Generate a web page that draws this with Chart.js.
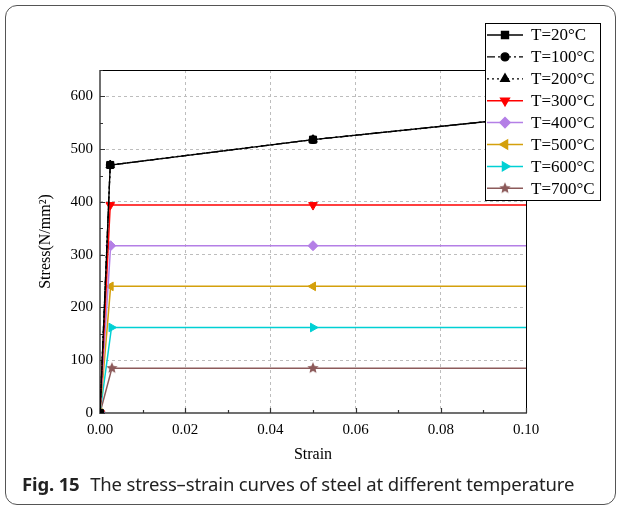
<!DOCTYPE html>
<html>
<head>
<meta charset="utf-8">
<script src="https://cdn.jsdelivr.net/npm/chart.js@4/dist/chart.umd.min.js"></script>
<style>
  html, body { margin: 0; padding: 0; background: #fff; }
  #wrap { position: relative; width: 624px; height: 510px; overflow: hidden; }
  #card { position: absolute; left: 5px; top: 5px; width: 611px; height: 500px; box-sizing: border-box;
          border: 1.5px solid #555; border-radius: 12px; }
  #chart { position: absolute; left: 0; top: 0; }
  #caption { position: absolute; left: 22px; top: 471px; font-family: "Noto Sans", sans-serif; font-size: 18.5px;
             color: #222; white-space: nowrap; letter-spacing: -0.15px; }
  #caption b { font-weight: 700; margin-right: 6px; }
</style>
</head>
<body>
<div id="wrap">
  <div id="card"></div>
  <canvas id="chart" width="624" height="510"></canvas>
  <div id="caption"><b>Fig. 15</b> The stress–strain curves of steel at different temperature</div>
</div>
<script>
// 图例标签
const labels = ["T=20°C", "T=100°C", "T=200°C", "T=300°C", "T=400°C", "T=500°C", "T=600°C", "T=700°C"];

// 应变 / 应力
const strain20 = [0, 0.0024, 0.05, 0.1];
const stress20 = [0, 470, 518, 560];
const strain100 = [0, 0.0024, 0.05, 0.1];
const stress100 = [0, 470, 518, 560];
const strain200 = [0, 0.0024, 0.05, 0.1];
const stress200 = [0, 470, 518, 560];
const strain300 = [0, 0.0024, 0.05, 0.1];
const stress300 = [0, 394, 394, 394];
const strain400 = [0, 0.0025, 0.05, 0.1];
const stress400 = [0, 317, 317, 317];
const strain500 = [0, 0.0025, 0.05, 0.1];
const stress500 = [0, 240, 240, 240];
const strain600 = [0, 0.0027, 0.05, 0.1];
const stress600 = [0, 162, 162, 162];
const strain700 = [0, 0.0028, 0.05, 0.1];
const stress700 = [0, 85, 85, 85];

const yTicks = [0, 100, 200, 300, 400, 500, 600];
const xTicks = [0, 0.02, 0.04, 0.06, 0.08, 0.10];

const strains = [strain20, strain100, strain200, strain300, strain400, strain500, strain600, strain700];
const stresses = [stress20, stress100, stress200, stress300, stress400, stress500, stress600, stress700];

// 五角星标记
function makeStar(color, r) {
    const c = document.createElement("canvas");
    c.width = c.height = r * 2 + 2;
    const g = c.getContext("2d");
    g.fillStyle = color;
    g.beginPath();
    for (let i = 0; i < 10; i++) {
        const rad = i % 2 === 0 ? r : r * 0.45;
        const a = -Math.PI / 2 + i * Math.PI / 5;
        const px = r + 1 + rad * Math.cos(a), py = r + 1 + rad * Math.sin(a);
        i === 0 ? g.moveTo(px, py) : g.lineTo(px, py);
    }
    g.closePath();
    g.fill();
    return c;
}

const styles = [
    { color: "#000000", dash: [], point: "rect", rot: 0, r: 5 },
    { color: "#000000", dash: [8, 3, 2, 3], point: "circle", rot: 0, r: 4 },
    { color: "#000000", dash: [2, 3], point: "triangle", rot: 0, r: 5 },
    { color: "#ff0000", dash: [], point: "triangle", rot: 180, r: 5 },
    { color: "#b47fe6", dash: [], point: "rectRot", rot: 0, r: 5 },
    { color: "#d4a00c", dash: [], point: "triangle", rot: -90, r: 5 },
    { color: "#00d0d4", dash: [], point: "triangle", rot: 90, r: 5 },
    { color: "#8c5a5a", dash: [], point: makeStar("#8c5a5a", 6), rot: 0, r: 5 }
];

const datasets = labels.map((lab, i) => ({
    label: lab,
    data: strains[i].map((x, j) => ({ x: x, y: stresses[i][j] })),
    borderColor: styles[i].color,
    backgroundColor: styles[i].color,
    borderWidth: i < 3 ? 1.3 : 1.5,
    borderDash: styles[i].dash,
    pointStyle: styles[i].point,
    rotation: styles[i].rot,
    pointRadius: ctx => ctx.dataIndex === 3 ? 0 : styles[i].r,
    pointBorderWidth: 1,
    tension: 0
}));

const serif = "'Liberation Serif', 'Times New Roman', serif";

// 坐标框和向内的刻度
const framePlugin = {
    id: "frame",
    beforeDatasetsDraw(chart) {
        const { ctx, chartArea: a, scales: { x, y } } = chart;
        ctx.save();
        ctx.strokeStyle = "#000";
        ctx.lineWidth = 1;
        ctx.beginPath();
        ctx.moveTo(a.left, a.top + 0.5); ctx.lineTo(a.right + 0.5, a.top + 0.5);
        ctx.lineTo(a.right + 0.5, a.bottom);
        ctx.stroke();
        ctx.strokeStyle = "#707070";
        ctx.lineWidth = 2;
        ctx.beginPath();
        ctx.moveTo(a.left, a.top); ctx.lineTo(a.left, a.bottom); ctx.lineTo(a.right + 1, a.bottom);
        ctx.stroke();
        ctx.lineWidth = 1.2;
        ctx.strokeStyle = "#333";
        ctx.beginPath();
        for (let v = 0; v <= 650; v += 50) {
            const py = Math.round(y.getPixelForValue(v)) + 0.5;
            const len = v % 100 === 0 ? 5 : 3;
            ctx.moveTo(a.left, py); ctx.lineTo(a.left + len, py);
        }
        for (let k = 0; k <= 10; k++) {
            const px = Math.round(x.getPixelForValue(k / 100)) + 0.5;
            const len = k % 2 === 0 ? 5 : 3;
            ctx.moveTo(px, a.bottom); ctx.lineTo(px, a.bottom - len);
        }
        ctx.stroke();
        ctx.restore();
    }
};

// 图例框
const legendPlugin = {
    id: "boxLegend",
    afterDraw(chart) {
        const ctx = chart.ctx;
        const bx = 485, by = 23, bw = 115, bh = 177;
        ctx.save();
        ctx.fillStyle = "#fff";
        ctx.fillRect(bx, by, bw, bh);
        ctx.strokeStyle = "#000";
        ctx.lineWidth = 1;
        ctx.strokeRect(bx + 0.5, by + 0.5, bw, bh);
        chart.data.datasets.forEach((ds, i) => {
            const cy = 35 + i * 21.9;
            ctx.strokeStyle = ds.borderColor;
            ctx.lineWidth = ds.borderWidth;
            ctx.setLineDash(ds.borderDash);
            ctx.beginPath();
            ctx.moveTo(487, cy); ctx.lineTo(523, cy);
            ctx.stroke();
            ctx.setLineDash([]);
            ctx.fillStyle = ds.backgroundColor;
            Chart.helpers.drawPoint(ctx, { pointStyle: ds.pointStyle, rotation: ds.rotation, radius: styles[i].r, borderWidth: 1 }, 505, cy);
            ctx.fillStyle = "#000";
            ctx.font = "17px " + serif;
            ctx.textBaseline = "middle";
            ctx.fillText(ds.label, 531, cy + 1);
        });
        ctx.restore();
    }
};

new Chart(document.getElementById("chart"), {
    type: "line",
    data: { datasets: datasets },
    options: {
        responsive: false,
        animation: false,
        layout: { padding: { left: 20, top: 70, right: 98, bottom: 40 } },
        plugins: { legend: { display: false }, tooltip: { enabled: false } },
        scales: {
            x: {
                type: "linear",
                min: 0, max: 0.1,
                afterFit: s => { s.height = 57; },
                afterBuildTicks: s => { s.ticks = xTicks.map(v => ({ value: v })); },
                grid: { color: ctx => (ctx.tick && ctx.tick.value > 0 && ctx.tick.value < 0.1) ? "#bdbdbd" : "rgba(0,0,0,0)", drawTicks: false },
                border: { display: false, dash: [3, 3] },
                ticks: { color: "#000", font: { family: serif, size: 15 }, padding: 8, callback: v => v.toFixed(2), maxRotation: 0 },
                title: { display: true, text: "Strain", color: "#000", font: { family: serif, size: 16 }, padding: { top: 4, bottom: 6 } }
            },
            y: {
                min: 0, max: 650,
                afterFit: s => { s.width = 80; },
                afterBuildTicks: s => { s.ticks = yTicks.map(v => ({ value: v })); },
                grid: { color: ctx => (ctx.tick && ctx.tick.value > 0) ? "#bdbdbd" : "rgba(0,0,0,0)", drawTicks: false },
                border: { display: false, dash: [3, 3] },
                ticks: { color: "#000", font: { family: serif, size: 15 }, padding: 7 },
                title: { display: true, text: "Stress(N/mm²)", color: "#000", font: { family: serif, size: 16 }, padding: { top: 16, bottom: 4 } }
            }
        }
    },
    plugins: [framePlugin, legendPlugin]
});
</script>
</body>
</html>
